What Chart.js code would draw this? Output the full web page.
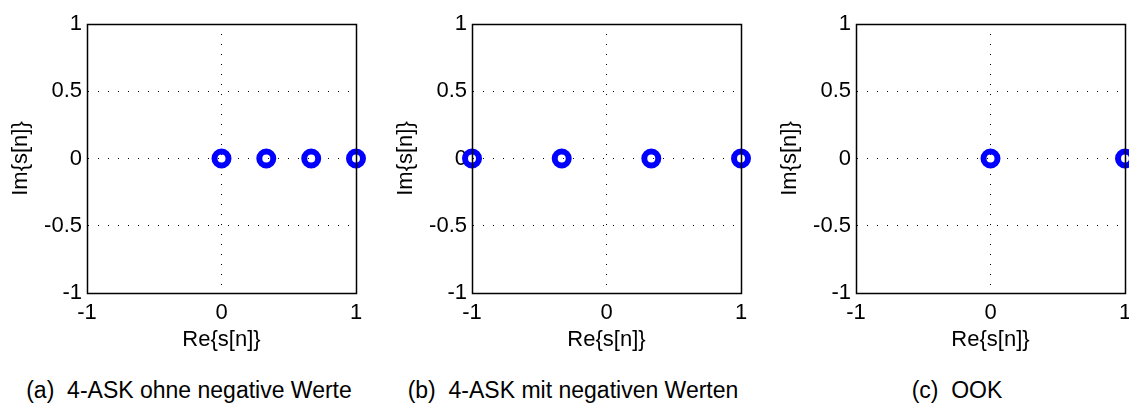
<!DOCTYPE html>
<html>
<head>
<meta charset="utf-8">
<title>Signalraumdiagramme</title>
<script src="https://cdn.jsdelivr.net/npm/chart.js@4/dist/chart.umd.min.js"></script>
<style>
  html, body { margin: 0; padding: 0; background: #fff; overflow: hidden; }
  body { position: relative; width: 1129px; height: 403px; font-family: "Liberation Sans", Arial, sans-serif; }
  canvas { position: absolute; top: 0; }
  .cap { position: absolute; top: 377px; font-size: 23px; line-height: 26px; white-space: pre; transform: translateX(-50%); color: #000; }
</style>
</head>
<body>
<canvas id="askPos" width="376" height="360" style="left:0px"></canvas>
<canvas id="askNeg" width="376" height="360" style="left:385px"></canvas>
<canvas id="ook" width="376" height="360" style="left:769px"></canvas>
<div class="cap" style="left:189px">(a)  4-ASK ohne negative Werte</div>
<div class="cap" style="left:573px">(b)  4-ASK mit negativen Werten</div>
<div class="cap" style="left:957px">(c)  OOK</div>
<script>
// constellation points (real / imaginary part)
const askPosRe = [0, 0.333, 0.667, 1];
const askPosIm = [0, 0, 0, 0];
const askNegRe = [-1, -0.333, 0.333, 1];
const askNegIm = [0, 0, 0, 0];
const ookRe = [0, 1];
const ookIm = [0, 0];

const xTicks = [-1, 0, 1];
const xTickLabels = ['-1', '0', '1'];
const yTicks = [-1, -0.5, 0, 0.5, 1];
const yTickLabels = ['-1', '-0.5', '0', '0.5', '1'];

const xTitle = 'Re{s[n]}';
const yTitle = 'Im{s[n]}';

const FONT = { family: '"Liberation Sans", Arial, sans-serif', size: 22 };

// closed box around the plot area like a matlab axes
const boxPlugin = {
  id: 'axesBox',
  afterDatasetsDraw(chart) {
    const { ctx, chartArea: a } = chart;
    ctx.save();
    ctx.strokeStyle = '#000';
    ctx.lineWidth = 1.5;
    ctx.strokeRect(Math.round(a.left) + 0.5, Math.round(a.top) + 0.5,
      Math.round(a.right - a.left), Math.round(a.bottom - a.top));
    ctx.restore();
  }
};

function makeChart(id, re, im) {
  const points = re.map((x, i) => ({ x: x, y: im[i] }));
  return new Chart(document.getElementById(id), {
    type: 'scatter',
    data: {
      datasets: [{
        data: points,
        pointStyle: 'circle',
        pointRadius: 7,
        pointHoverRadius: 7,
        pointBorderWidth: 6,
        borderColor: '#0000ff',
        backgroundColor: 'rgba(0,0,0,0)',
        clip: false
      }]
    },
    options: {
      responsive: false,
      animation: false,
      events: [],
      layout: { padding: { top: 24, left: 0, right: 20, bottom: 0 } },
      plugins: { legend: { display: false }, tooltip: { enabled: false } },
      scales: {
        x: {
          type: 'linear',
          min: -1,
          max: 1,
          afterBuildTicks: s => { s.ticks = xTicks.map(v => ({ value: v })); },
          afterFit: s => { s.height = 67; },
          ticks: {
            color: '#000',
            font: FONT,
            padding: 7,
            maxRotation: 0,
            callback: v => xTickLabels[xTicks.indexOf(v)]
          },
          grid: { color: '#000', lineWidth: 1, drawTicks: false },
          border: { display: true, color: '#000', width: 1, dash: [1, 9], z: 1 },
          title: { display: true, text: xTitle, color: '#000', font: FONT, padding: { top: 0, bottom: 7 } }
        },
        y: {
          type: 'linear',
          min: -1,
          max: 1,
          afterBuildTicks: s => { s.ticks = yTicks.map(v => ({ value: v })); },
          afterFit: s => { s.width = 87; },
          ticks: {
            color: '#000',
            font: FONT,
            padding: 5,
            callback: v => yTickLabels[yTicks.indexOf(v)]
          },
          grid: { color: '#000', lineWidth: 1, drawTicks: false },
          border: { display: true, color: '#000', width: 1, dash: [1, 9], z: 1 },
          title: { display: true, text: yTitle, color: '#000', font: FONT, padding: { top: 8, bottom: 0 } }
        }
      }
    },
    plugins: [boxPlugin]
  });
}

makeChart('askPos', askPosRe, askPosIm);
makeChart('askNeg', askNegRe, askNegIm);
makeChart('ook', ookRe, ookIm);
</script>
</body>
</html>
